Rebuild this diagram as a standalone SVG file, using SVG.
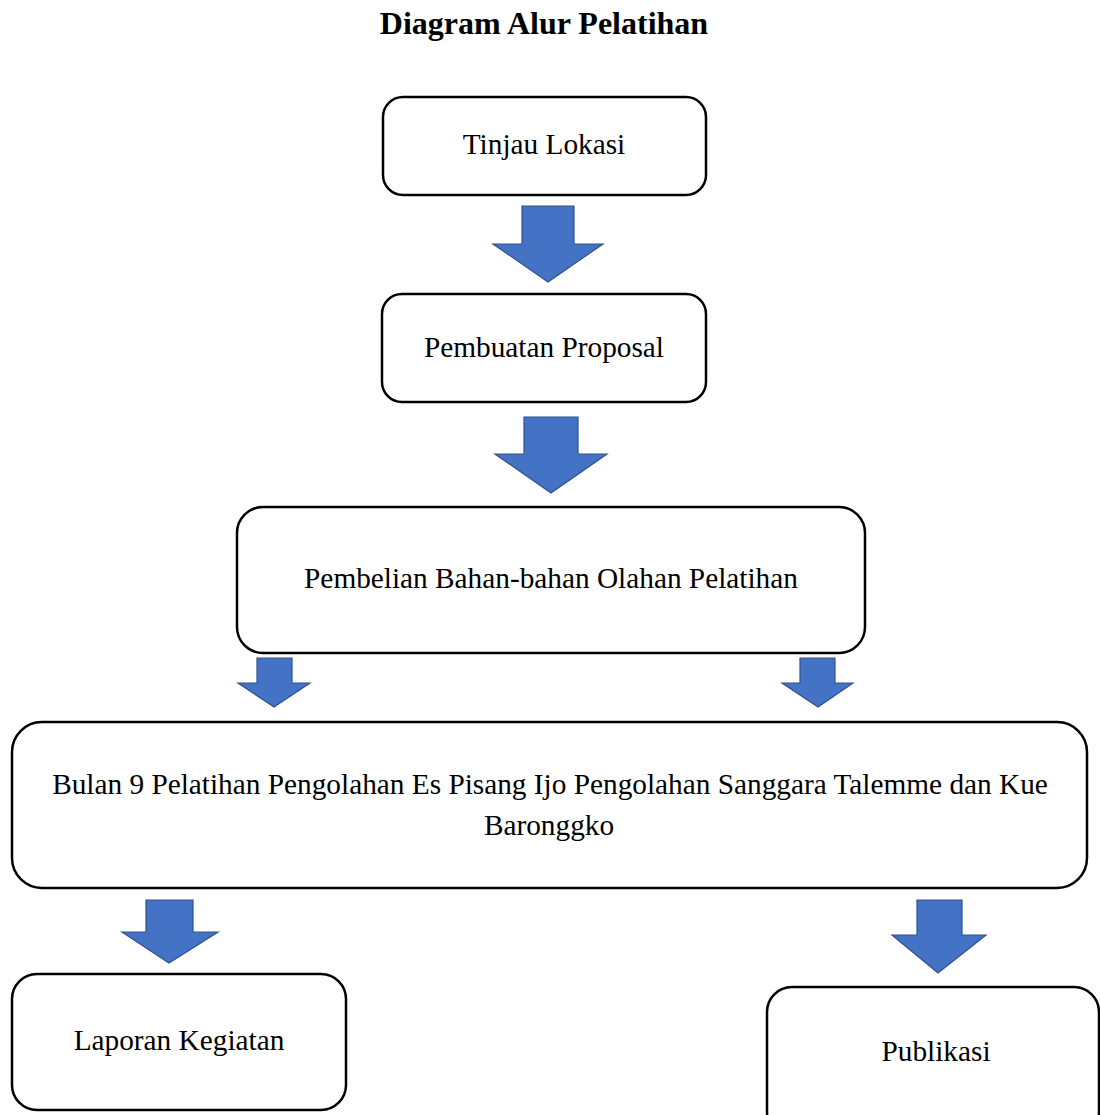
<svg xmlns="http://www.w3.org/2000/svg" width="1100" height="1115" viewBox="0 0 1100 1115">
<style>
.box{fill:#fff;stroke:#000;stroke-width:2.5}
.t{font-family:"Liberation Serif","Times New Roman",serif;font-size:29.3px;fill:#000;text-anchor:middle}
.title{font-family:"Liberation Serif","Times New Roman",serif;font-size:32px;font-weight:bold;fill:#000;text-anchor:middle}
.arr{fill:#4472C4;stroke:#2F528F;stroke-width:1.2}
</style>
<rect width="1100" height="1115" fill="#fff"/>
<text class="title" x="544" y="34">Diagram Alur Pelatihan</text>
<g id="n1"><rect class="box" x="383" y="97" width="323" height="98" rx="20"/><text class="t" x="544" y="154">Tinjau Lokasi</text></g>
<g id="n2"><rect class="box" x="382" y="294" width="324" height="108" rx="20"/><text class="t" x="544" y="357">Pembuatan Proposal</text></g>
<g id="n3"><rect class="box" x="237" y="507" width="628" height="146" rx="26"/><text class="t" x="551" y="588">Pembelian Bahan-bahan Olahan Pelatihan</text></g>
<g id="n4"><rect class="box" x="12" y="722" width="1075" height="166" rx="30"/><text class="t" x="550" y="794">Bulan 9 Pelatihan Pengolahan Es Pisang Ijo Pengolahan Sanggara Talemme dan Kue</text><text class="t" x="549" y="835">Baronggko</text></g>
<g id="n5"><rect class="box" x="12" y="974" width="334" height="136" rx="25"/><text class="t" x="179" y="1050">Laporan Kegiatan</text></g>
<g id="n6"><rect class="box" x="767" y="987" width="332" height="150" rx="25"/><text class="t" x="936" y="1061">Publikasi</text></g>
<g id="connectors">
<polygon class="arr" points="522,206 574,206 574,244 603,244 548,282 493,244 522,244"/>
<polygon class="arr" points="524,417 578,417 578,454 607,454 551,493 495,454 524,454"/>
<polygon class="arr" points="257,658 292,658 292,683 310,683 274,707 238,683 257,683"/>
<polygon class="arr" points="800,658 835,658 835,683 853,683 818,707 782,683 800,683"/>
<polygon class="arr" points="146,900 193,900 193,932 218,932 169,963 122,932 146,932"/>
<polygon class="arr" points="917,900 962,900 962,935 986,935 938,973 892,935 917,935"/>
</g>
</svg>
